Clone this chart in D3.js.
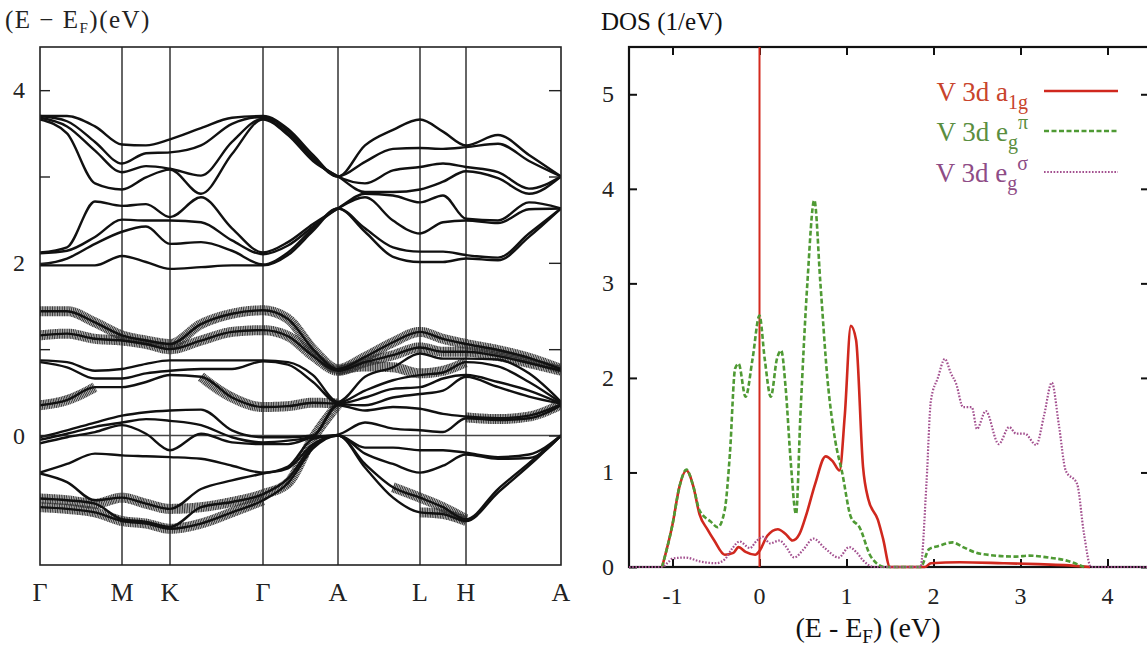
<!DOCTYPE html>
<html><head><meta charset="utf-8">
<script src="https://cdn.jsdelivr.net/npm/d3@7"></script>
<style>body{margin:0;background:#fff}svg{display:block}svg text,svg tspan{font-family:"Liberation Serif" !important}</style>
</head><body><svg id="c" width="1147" height="646"></svg>
<script>
// ---------- Band structure data ----------
const kTickPos = [0, 0.82, 1.30, 2.23, 2.98, 3.80, 4.26, 5.21];
const kTickLabels = ["Γ", "M", "K", "Γ", "A", "L", "H", "A"];
const kSamples = [0, 0.27, 0.55, 0.82, 1.06, 1.30, 1.61, 1.92, 2.23, 2.48, 2.73, 2.98, 3.25, 3.53, 3.80, 4.03, 4.26, 4.58, 4.89, 5.21];
const bandTicks = [0, 1, 2, 3, 4];
const bandTickLabels = ["0", "2", "4"];

// energies (eV) of upper bands at each k sample
const upperBandsByK = [
  [1.97, 1.98, 2.11, 2.12, 3.66, 3.68, 3.70, 3.70],
  [1.97, 2.05, 2.14, 2.18, 3.50, 3.58, 3.64, 3.70],
  [1.97, 2.22, 2.30, 2.71, 2.92, 3.30, 3.40, 3.58],
  [2.08, 2.36, 2.50, 2.66, 2.85, 3.05, 3.15, 3.37],
  [2.01, 2.42, 2.49, 2.68, 2.99, 3.12, 3.27, 3.36],
  [1.93, 2.22, 2.49, 2.53, 3.08, 3.09, 3.28, 3.43],
  [1.95, 2.24, 2.47, 2.76, 2.80, 3.01, 3.36, 3.56],
  [1.97, 2.14, 2.26, 2.40, 3.26, 3.40, 3.61, 3.68],
  [1.97, 1.98, 2.10, 2.12, 3.66, 3.67, 3.69, 3.70],
  [2.09, 2.12, 2.20, 2.24, 3.48, 3.50, 3.53, 3.55],
  [2.37, 2.40, 2.42, 2.45, 3.18, 3.20, 3.22, 3.25],
  [2.63, 2.63, 2.63, 2.63, 3.00, 3.00, 3.00, 3.00],
  [2.36, 2.40, 2.76, 2.80, 2.82, 2.92, 3.17, 3.36],
  [2.07, 2.18, 2.49, 2.78, 2.82, 3.07, 3.32, 3.54],
  [2.01, 2.13, 2.34, 2.70, 2.85, 3.11, 3.33, 3.66],
  [2.01, 2.13, 2.47, 2.78, 2.94, 3.15, 3.32, 3.52],
  [2.05, 2.09, 2.49, 2.51, 3.06, 3.11, 3.34, 3.36],
  [2.03, 2.06, 2.46, 2.49, 2.98, 3.05, 3.38, 3.48],
  [2.30, 2.34, 2.62, 2.70, 2.80, 2.86, 3.18, 3.25],
  [2.63, 2.63, 2.63, 2.63, 3.00, 3.00, 3.00, 3.00]
];

// energies (eV) of lower bands at each k sample
const lowerBandsByK = [
  [-0.83, -0.73, -0.44, -0.43, -0.09, -0.05, -0.02, 0.35, 0.85, 0.87, 1.16, 1.44],
  [-0.85, -0.75, -0.54, -0.33, -0.02, 0.02, 0.06, 0.41, 0.79, 0.85, 1.18, 1.44],
  [-0.89, -0.79, -0.75, -0.21, 0.04, 0.10, 0.15, 0.56, 0.66, 0.75, 1.12, 1.31],
  [-0.99, -0.97, -0.72, -0.23, 0.12, 0.15, 0.23, 0.56, 0.66, 0.77, 1.10, 1.16],
  [-1.02, -1.00, -0.79, -0.24, 0.02, 0.19, 0.27, 0.62, 0.72, 0.83, 1.06, 1.10],
  [-1.08, -1.06, -0.85, -0.25, -0.17, 0.17, 0.29, 0.70, 0.75, 0.87, 1.00, 1.06],
  [-1.02, -0.83, -0.62, -0.27, 0.02, 0.12, 0.30, 0.68, 0.77, 0.87, 1.10, 1.29],
  [-0.89, -0.77, -0.52, -0.35, -0.08, -0.02, 0.06, 0.44, 0.77, 0.87, 1.20, 1.41],
  [-0.75, -0.68, -0.44, -0.43, -0.10, -0.08, -0.02, 0.33, 0.86, 0.87, 1.22, 1.45],
  [-0.55, -0.50, -0.38, -0.36, -0.10, -0.06, -0.02, 0.34, 0.82, 0.85, 1.15, 1.35],
  [-0.15, -0.12, -0.10, -0.04, -0.02, -0.01, 0.00, 0.38, 0.62, 0.70, 0.92, 1.00],
  [0.00, 0.00, 0.00, 0.00, 0.01, 0.35, 0.36, 0.37, 0.38, 0.39, 0.75, 0.77],
  [-0.37, -0.33, -0.21, -0.14, 0.15, 0.29, 0.35, 0.44, 0.52, 0.68, 0.85, 0.91],
  [-0.72, -0.60, -0.33, -0.14, 0.08, 0.33, 0.44, 0.54, 0.64, 0.79, 0.93, 1.08],
  [-0.89, -0.72, -0.43, -0.17, 0.06, 0.31, 0.48, 0.56, 0.70, 0.95, 1.02, 1.20],
  [-0.91, -0.83, -0.35, -0.17, 0.04, 0.25, 0.52, 0.66, 0.73, 0.89, 0.97, 1.12],
  [-0.99, -0.97, -0.22, -0.20, 0.20, 0.22, 0.68, 0.70, 0.85, 0.89, 0.97, 1.06],
  [-0.66, -0.62, -0.27, -0.25, 0.18, 0.20, 0.56, 0.62, 0.80, 0.88, 0.92, 0.99],
  [-0.35, -0.32, -0.26, -0.22, 0.20, 0.23, 0.45, 0.52, 0.62, 0.72, 0.84, 0.90],
  [0.00, 0.00, 0.00, 0.00, 0.35, 0.36, 0.37, 0.37, 0.38, 0.39, 0.75, 0.77]
];

// fat-band (orbital weight) overlays, null = no weight
const fatBands = [
  [1.44, 1.44, 1.31, 1.16, 1.10, 1.06, 1.29, 1.41, 1.45, 1.35, 1.00, 0.77, 0.91, 1.08, 1.20, 1.12, 1.06, 0.99, 0.90, 0.77],
  [1.16, 1.18, 1.12, 1.10, 1.06, 1.00, 1.10, 1.20, 1.22, 1.15, 0.92, 0.75, 0.85, 0.93, 1.02, 0.97, 0.97, 0.92, 0.84, 0.75],
  [0.35, 0.41, 0.56, null, null, null, null, null, null, null, null, null, null, null, null, null, null, null, null, null],
  [null, null, null, null, null, null, 0.68, 0.44, 0.33, 0.34, 0.38, 0.37, null, null, null, null, null, null, null, null],
  [null, null, null, null, null, null, null, null, null, null, null, null, null, null, null, null, 0.21, 0.19, 0.22, 0.36],
  [-0.73, -0.75, -0.79, -0.72, -0.79, -0.85, -0.83, -0.77, -0.68, -0.55, -0.03, 0.36, null, null, null, null, null, null, null, null],
  [-0.83, -0.85, -0.89, -0.99, -1.02, -1.08, -1.02, -0.89, -0.75, null, null, null, null, null, null, null, null, null, null, null],
  [null, null, null, null, null, null, null, null, null, null, null, null, null, -0.60, -0.72, -0.83, -0.97, null, null, null],
  [null, null, null, null, null, null, null, null, null, null, null, null, null, null, -0.89, -0.91, -0.99, null, null, null],
  [null, null, null, null, null, null, null, null, null, null, null, 0.75, 0.80, 0.79, 0.72, 0.75, 0.85, null, null, null]
];

// ---------- DOS data ----------
const dosXTicks = [-1, 0, 1, 2, 3, 4];
const dosYTicks = [0, 1, 2, 3, 4, 5];
const seriesNames = ["a1g", "egPi", "egSigma"];

const a1gE =   [-1.12, -1.0, -0.92, -0.84, -0.76, -0.69, -0.6, -0.52, -0.40, -0.30, -0.24, -0.16, -0.05, 0.0, 0.09, 0.21, 0.30, 0.38, 0.46, 0.54, 0.64, 0.76, 0.84, 0.92, 0.98, 1.05, 1.11, 1.19, 1.25, 1.36, 1.42, 1.50, 1.90, 1.97, 2.3, 2.8, 3.2, 3.5, 3.8];
const a1gDOS = [0, 0.45, 0.85, 1.02, 0.85, 0.56, 0.40, 0.28, 0.13, 0.15, 0.21, 0.16, 0.13, 0.17, 0.33, 0.40, 0.35, 0.28, 0.35, 0.56, 0.88, 1.17, 1.12, 1.02, 1.6, 2.55, 2.40, 1.06, 0.72, 0.50, 0.30, 0, 0, 0.04, 0.05, 0.04, 0.03, 0.02, 0];

const egPiE =   [-1.12, -1.0, -0.92, -0.84, -0.76, -0.69, -0.56, -0.48, -0.40, -0.34, -0.28, -0.24, -0.16, -0.08, 0.0, 0.06, 0.13, 0.20, 0.25, 0.30, 0.36, 0.42, 0.47, 0.55, 0.63, 0.70, 0.78, 0.87, 0.95, 1.05, 1.15, 1.28, 1.44, 1.85, 1.95, 2.05, 2.22, 2.34, 2.54, 2.95, 3.1, 3.32, 3.52, 3.73];
const egPiDOS = [0, 0.45, 0.85, 1.03, 0.85, 0.60, 0.48, 0.42, 0.60, 1.2, 2.10, 2.15, 1.80, 2.20, 2.66, 2.20, 1.80, 2.20, 2.29, 1.90, 1.10, 0.56, 1.6, 3.0, 3.88, 3.0, 2.0, 1.34, 1.00, 0.53, 0.42, 0.11, 0, 0, 0.19, 0.22, 0.26, 0.21, 0.14, 0.11, 0.12, 0.10, 0.07, 0];

const egSigE =   [-1.5, -1.12, -1.05, -1.0, -0.85, -0.69, -0.50, -0.40, -0.31, -0.23, -0.11, -0.03, 0.04, 0.12, 0.23, 0.30, 0.40, 0.50, 0.62, 0.75, 0.91, 1.03, 1.12, 1.19, 1.32, 1.85, 1.92, 1.97, 2.05, 2.13, 2.20, 2.26, 2.34, 2.44, 2.50, 2.60, 2.75, 2.87, 2.95, 3.05, 3.18, 3.27, 3.36, 3.44, 3.52, 3.65, 3.73, 3.81, 4.5];
const egSigDOS = [0, 0, 0.05, 0.09, 0.10, 0.06, 0.04, 0.08, 0.20, 0.27, 0.20, 0.28, 0.32, 0.25, 0.28, 0.22, 0.10, 0.18, 0.30, 0.20, 0.10, 0.21, 0.15, 0.07, 0, 0, 0.9, 1.76, 2.0, 2.20, 2.05, 1.94, 1.69, 1.69, 1.46, 1.65, 1.30, 1.48, 1.41, 1.41, 1.29, 1.60, 1.95, 1.51, 1.02, 0.88, 0.35, 0, 0];

// ---------- drawing ----------
const FONT = "Liberation Serif";
const svg = d3.select("#c");
const transpose = a => a[0].map((_, j) => a.map(r => r[j]));
const upperBands = transpose(upperBandsByK);
const lowerBands = transpose(lowerBandsByK);
const label = (sel, x, y, size, anchor, fill) => sel.append("text").attr("x", x).attr("y", y)
  .attr("font-family", FONT).attr("font-size", size).attr("text-anchor", anchor).attr("fill", fill);

// Band panel
const bx = d3.scaleLinear().domain([0, 5.21]).range([40, 561]);
const by = d3.scaleLinear().domain([-1.5, 4.5]).range([565, 47]);
svg.append("defs").append("clipPath").attr("id", "bclip").append("rect")
  .attr("x", bx(0)).attr("y", by(4.5)).attr("width", bx(5.21) - bx(0)).attr("height", by(-1.5) - by(4.5));
const bp = svg.append("g");
const bplot = bp.append("g").attr("clip-path", "url(#bclip)");

bplot.selectAll("line.kv").data(kTickPos.slice(1, -1)).join("line").attr("class", "kv")
  .attr("x1", d => bx(d)).attr("x2", d => bx(d)).attr("y1", by(-1.5)).attr("y2", by(4.5))
  .attr("stroke", "#333").attr("stroke-width", 1.5);
bplot.append("line").attr("x1", bx(0)).attr("x2", bx(5.21)).attr("y1", by(0)).attr("y2", by(0))
  .attr("stroke", "#444").attr("stroke-width", 1.3);

const fatLine = d3.line().defined(d => d != null).x((d, i) => bx(kSamples[i])).y(d => by(d)).curve(d3.curveMonotoneX);
bplot.selectAll("path.fat").data(fatBands).join("path").attr("class", "fat")
  .attr("d", fatLine).attr("fill", "none").attr("stroke", "#2a2a2a").attr("stroke-width", 10)
  .attr("stroke-dasharray", "1.2 0.5").attr("opacity", 0.9);

const bandLine = d3.line().x((d, i) => bx(kSamples[i])).y(d => by(d)).curve(d3.curveMonotoneX);
bplot.selectAll("path.band").data(upperBands.concat(lowerBands)).join("path").attr("class", "band")
  .attr("d", bandLine).attr("fill", "none").attr("stroke", "#111").attr("stroke-width", 2.4);

bp.append("rect").attr("x", bx(0)).attr("y", by(4.5)).attr("width", bx(5.21) - bx(0)).attr("height", by(-1.5) - by(4.5))
  .attr("fill", "none").attr("stroke", "#222").attr("stroke-width", 1.6);

const bl = bp.append("g").attr("transform", `translate(${bx(0)},0)`)
  .call(d3.axisLeft(by).tickValues(bandTicks).tickSizeInner(-10).tickSizeOuter(0).tickFormat(""));
bl.select(".domain").remove();
bl.selectAll("line").attr("stroke", "#222").attr("stroke-width", 1.4);
const br = bp.append("g").attr("transform", `translate(${bx(5.21)},0)`)
  .call(d3.axisRight(by).tickValues(bandTicks).tickSizeInner(-12).tickSizeOuter(0).tickFormat(""));
br.select(".domain").remove();
br.selectAll("line").attr("stroke", "#222").attr("stroke-width", 1.4);
bandTickLabels.forEach(t => label(bp, 25, by(+t) + 8, 24, "end", "#222").text(t));

kTickPos.forEach((k, i) => label(bp, bx(k), 601, 26, "middle", "#222").text(kTickLabels[i]));

const bt = label(bp, 5, 28, 25, "start", "#222").attr("letter-spacing", 1.5);
bt.append("tspan").text("(E − E");
bt.append("tspan").attr("dy", 5).attr("font-size", 15).text("F");
bt.append("tspan").attr("dy", -5).text(")(eV)");

// DOS panel
const dx = d3.scaleLinear().domain([-1.5, 4.5]).range([629, 1151]);
const dy = d3.scaleLinear().domain([0, 5.5]).range([567, 47]);
svg.select("defs").append("clipPath").attr("id", "dclip").append("rect")
  .attr("x", dx(-1.5)).attr("y", dy(5.5) - 2).attr("width", dx(4.5) - dx(-1.5)).attr("height", dy(0) - dy(5.5) + 4);
const dp = svg.append("g");

dp.append("rect").attr("x", dx(-1.5)).attr("y", dy(5.5)).attr("width", dx(4.5) - dx(-1.5)).attr("height", dy(0) - dy(5.5))
  .attr("fill", "none").attr("stroke", "#111").attr("stroke-width", 2.2);

const tickAxes = [
  [d3.axisBottom(dx).tickValues(dosXTicks).tickSizeInner(-8), `translate(0,${dy(0)})`],
  [d3.axisTop(dx).tickValues(dosXTicks).tickSizeInner(-8), `translate(0,${dy(5.5)})`],
  [d3.axisLeft(dy).tickValues(dosYTicks).tickSizeInner(-8), `translate(${dx(-1.5)},0)`],
  [d3.axisRight(dy).tickValues(dosYTicks).tickSizeInner(-10), `translate(${dx(4.5)},0)`]
];
tickAxes.forEach(([a, tr]) => {
  const g = dp.append("g").attr("transform", tr).call(a.tickSizeOuter(0).tickFormat(""));
  g.select(".domain").remove();
  g.selectAll("line").attr("stroke", "#111").attr("stroke-width", 2);
});
dosXTicks.forEach(t => label(dp, dx(t), 604, 24, "middle", "#222").text(String(t)));
dosYTicks.forEach(t => label(dp, 614, dy(t) + 8, 24, "end", "#222").text(String(t)));

const dplot = dp.append("g").attr("clip-path", "url(#dclip)");
dplot.append("line").attr("x1", dx(0)).attr("x2", dx(0)).attr("y1", dy(0)).attr("y2", dy(5.5))
  .attr("stroke", "#d42a1e").attr("stroke-width", 2);

const dosLine = d3.line().x(d => dx(d[0])).y(d => dy(d[1])).curve(d3.curveMonotoneX);
const series = [
  {name: seriesNames[0], pts: d3.zip(a1gE, a1gDOS), color: "#d0281e", dash: null, w: 2.6},
  {name: seriesNames[1], pts: d3.zip(egPiE, egPiDOS), color: "#4f9a34", dash: "5 2.5", w: 2.6},
  {name: seriesNames[2], pts: d3.zip(egSigE, egSigDOS), color: "#a3508f", dash: "1.6 1.6", w: 2.2}
];
dplot.selectAll("path.dos").data(series).join("path").attr("class", "dos")
  .attr("d", d => dosLine(d.pts)).attr("fill", "none").attr("stroke", d => d.color)
  .attr("stroke-width", d => d.w).attr("stroke-dasharray", d => d.dash);

// legend
const legRows = [
  {main: "V 3d a", sub: "1g", sup: null, tc: "#c8442c", y: 91},
  {main: "V 3d e", sub: "g", sup: "π", tc: "#5a8e40", y: 131},
  {main: "V 3d e", sub: "g", sup: "σ", tc: "#8e4c86", y: 172}
];
legRows.forEach((r, i) => {
  const t = label(dp, 1028, r.y + 10, 27, "end", r.tc);
  t.append("tspan").text(r.main);
  t.append("tspan").attr("dy", 8).attr("font-size", 20).text(r.sub);
  if (r.sup) t.append("tspan").attr("dy", -20).attr("font-size", 20).text(r.sup);
  dp.append("line").attr("x1", 1044).attr("x2", 1118).attr("y1", r.y).attr("y2", r.y)
    .attr("stroke", series[i].color).attr("stroke-width", series[i].w).attr("stroke-dasharray", series[i].dash);
});

label(dp, 601, 30, 25, "start", "#111").text("DOS (1/eV)");

const xt = label(dp, 868, 637, 28, "middle", "#111");
xt.append("tspan").text("(E - E");
xt.append("tspan").attr("dy", 6).attr("font-size", 19).text("F");
xt.append("tspan").attr("dy", -6).text(") (eV)");
</script></body></html>
